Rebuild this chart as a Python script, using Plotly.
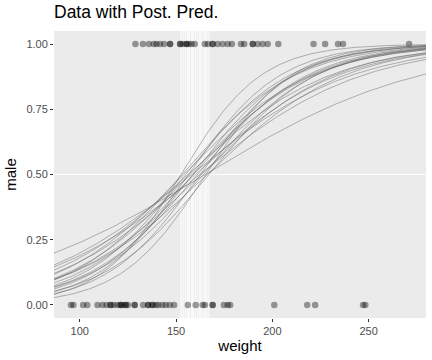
import numpy as np
import plotly.graph_objects as go

# ---- data ----
weight_male = [128.9, 132.8, 135.9, 138.4, 139.8, 141.7, 143.8, 146.9, 146.9, 152.1, 152.1,
               153.5, 155.4, 155.4, 156.6, 158.0, 159.7, 164.9, 166.5, 169.0, 169.0, 171.6,
               174.2, 176.8, 179.0, 183.7, 185.4, 189.8, 189.8, 192.4, 195.0, 197.6, 203.1,
               221.4, 227.4, 234.1, 236.7, 271.0]
weight_female = [95.4, 96.7, 101.7, 103.9, 109.2, 111.8, 113.9, 116.0, 116.0, 117.6, 119.6,
                 121.2, 121.2, 122.2, 123.8, 123.8, 125.0, 128.5, 128.5, 132.9, 135.5, 135.5,
                 137.7, 137.7, 139.4, 140.7, 142.8, 144.6, 146.7, 149.0, 156.1, 160.2, 163.8,
                 165.0, 169.0, 169.0, 174.8, 176.8, 178.1, 201.0, 218.1, 222.2, 247.1, 248.3]

# posterior draws: decision boundary (weight where P(male)=0.5) and slope
post_boundary = [165.0, 158.0, 162.0, 156.0, 160.0, 154.0, 163.0, 157.0, 166.0, 153.0,
                 159.0, 161.0, 155.0, 164.0, 158.5, 167.0, 156.5, 162.5, 152.5, 165.5]
post_slope = [0.0178, 0.024, 0.0235, 0.027, 0.027, 0.030, 0.029, 0.031, 0.028, 0.034,
              0.033, 0.035, 0.037, 0.034, 0.038, 0.036, 0.042, 0.041, 0.048, 0.045]

title = "Data with Post. Pred."
x_title = "weight"
y_title = "male"
x_ticks = [100, 150, 200, 250]
y_ticks = [0.0, 0.25, 0.5, 0.75, 1.0]
y_ticklabels = ["0.00", "0.25", "0.50", "0.75", "1.00"]

# ---- figure ----
all_w = weight_male + weight_female
lo, hi = min(all_w), max(all_w)
pad = 0.05 * (hi - lo)
xr = [lo - pad, hi + pad]
yr = [-0.05, 1.05]

FONT = "Liberation Sans, Arial, Helvetica, sans-serif"
fig = go.Figure()

# white vertical lines at boundaries
vx, vy = [], []
for m in post_boundary:
    vx += [m, m, None]
    vy += [yr[0] - 1, yr[1] + 1, None]
fig.add_trace(go.Scatter(x=vx, y=vy, mode="lines",
                         line=dict(color="white", width=0.8),
                         hoverinfo="skip", showlegend=False))

# data points
fig.add_trace(go.Scatter(x=weight_male, y=[1] * len(weight_male), mode="markers",
                         marker=dict(size=6.5, color="rgba(0,0,0,0.38)", line=dict(width=0)),
                         showlegend=False, cliponaxis=False))
fig.add_trace(go.Scatter(x=weight_female, y=[0] * len(weight_female), mode="markers",
                         marker=dict(size=6.5, color="rgba(0,0,0,0.38)", line=dict(width=0)),
                         showlegend=False, cliponaxis=False))

# posterior predictive curves
xs = np.linspace(xr[0], xr[1], 200)
for m, k in zip(post_boundary, post_slope):
    p = 1.0 / (1.0 + np.exp(-k * (xs - m)))
    fig.add_trace(go.Scatter(x=xs, y=p, mode="lines",
                             line=dict(color="rgba(100,100,100,0.6)", width=0.8),
                             hoverinfo="skip", showlegend=False))

fig.add_shape(type="line", xref="paper", yref="y", x0=0, x1=1, y0=0.5, y1=0.5,
              line=dict(color="white", width=1.1), layer="below")

fig.update_layout(
    width=432, height=360,
    margin=dict(l=54, r=6, t=31, b=42),
    paper_bgcolor="white", plot_bgcolor="#EBEBEB",
    font=dict(family=FONT, color="black"),
    title=dict(text=title, x=54 / 432, xanchor="left", xref="container",
               y=1 - 6 / 360, yanchor="top", yref="container",
               font=dict(size=17.5, color="black", family=FONT)),
    showlegend=False,
)
fig.update_xaxes(range=xr, showgrid=False, zeroline=False, tickvals=x_ticks,
                 ticks="outside", ticklen=3, tickcolor="#333333", tickwidth=1,
                 tickfont=dict(size=11, color="#4D4D4D", family=FONT),
                 title=dict(text=x_title, font=dict(size=15, color="black", family=FONT), standoff=4),
                 showline=False)
fig.update_yaxes(range=yr, showgrid=False, zeroline=False, tickvals=y_ticks,
                 ticktext=y_ticklabels,
                 ticks="outside", ticklen=3, tickcolor="#333333", tickwidth=1,
                 tickfont=dict(size=11, color="#4D4D4D", family=FONT),
                 title=dict(text=y_title, font=dict(size=15, color="black", family=FONT), standoff=6),
                 showline=False)

fig.write_html("out.html", config={"displayModeBar": False},
               post_script="document.body.style.margin='0';document.body.style.overflow='hidden';")
